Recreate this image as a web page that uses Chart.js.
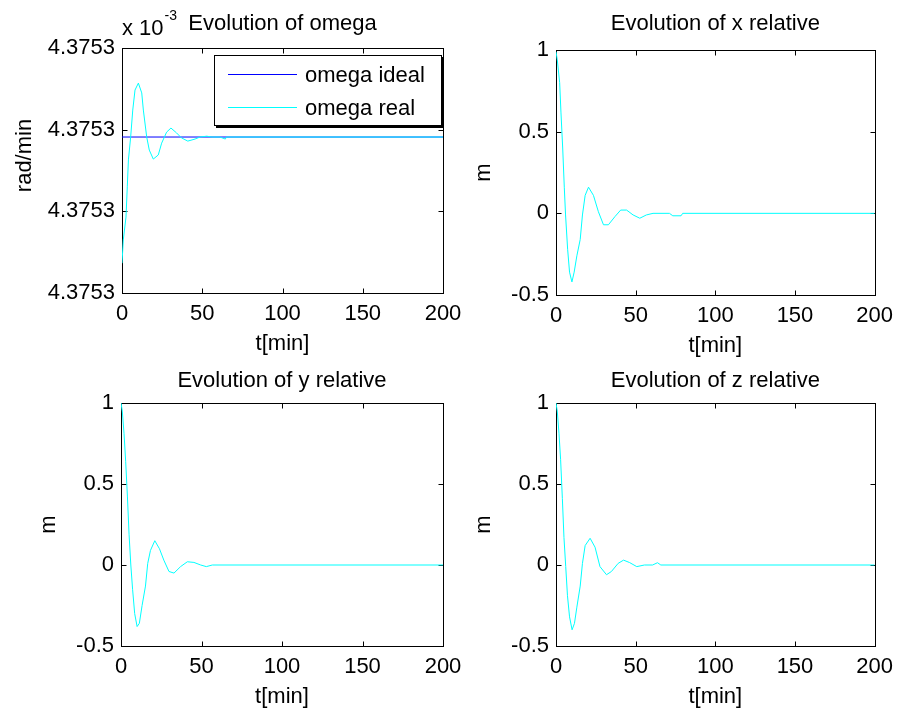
<!DOCTYPE html>
<html>
<head>
<meta charset="utf-8">
<script src="https://cdn.jsdelivr.net/npm/chart.js@4.4.1/dist/chart.umd.min.js"></script>
<style>
  html, body { margin: 0; padding: 0; background: #fff; width: 901px; height: 710px; overflow: hidden; }
  canvas { position: absolute; left: 0; top: 0; }
</style>
</head>
<body>
<canvas id="omega" width="901" height="760"></canvas>
<canvas id="xrel" width="901" height="760"></canvas>
<canvas id="yrel" width="901" height="760"></canvas>
<canvas id="zrel" width="901" height="760"></canvas>
<script>
// tick labels
const tTicks = [0, 50, 100, 150, 200];
const relTicks = [-0.5, 0, 0.5, 1];
const omegaTicks = [4.37526, 4.37528, 4.37530, 4.37532]; // x 10^-3, all print as 4.3753

// omega [x 10^-3 rad/min]
const tIdeal = [0, 200];
const omegaIdeal = [4.3752982, 4.3752982];
const tOmega = [0, 0.8, 2.5, 3.3, 4, 5.4, 6.7, 8.1, 10.2, 12.3, 13.3, 15.4, 17, 19.5, 22.6, 24.7,
  27.8, 30.5, 34, 37, 41, 45.5, 48.6, 52.8, 56, 61, 64.4, 65, 200];
const omegaReal = [4.3752673, 4.3752730, 4.3752786, 4.3752860, 4.3752926, 4.3752982, 4.3753048,
  4.3753097, 4.3753114, 4.3753090, 4.3753048, 4.3752982, 4.3752950, 4.3752928, 4.3752938,
  4.3752967, 4.3752994, 4.3753004, 4.3752992, 4.3752980, 4.3752972, 4.3752977, 4.3752982,
  4.3752984, 4.3752982, 4.3752982, 4.3752977, 4.3752982, 4.3752982];

// relative position [m]
const tX = [0, 0.8, 2.3, 3.1, 4.2, 5.2, 6, 7.3, 8.5, 10, 11.4, 13.1, 15.2, 16.6, 18.3, 20.4, 23.5,
  26.6, 29.8, 32.9, 37, 40.6, 44.3, 48.4, 52.6, 56.7, 60.9, 71.2, 73.3, 78.5, 79.5, 200];
const xRel = [0.99, 0.94, 0.80, 0.62, 0.40, 0.16, -0.01, -0.22, -0.36, -0.42, -0.36, -0.26, -0.16,
  -0.01, 0.11, 0.16, 0.11, 0.01, -0.07, -0.07, -0.02, 0.02, 0.02, -0.01, -0.03, -0.01, 0, 0,
  -0.015, -0.015, 0, 0];

const tY = [0, 0.8, 1.9, 2.9, 4, 5, 6.1, 7.2, 8.5, 10, 11.4, 13.1, 15.2, 16.6, 18.3, 21, 23.9,
  26.6, 29.8, 32.9, 37, 41.2, 45.3, 49.5, 53, 56.7, 200];
const yRel = [1.0, 0.95, 0.81, 0.64, 0.42, 0.19, 0.0, -0.15, -0.30, -0.38, -0.36, -0.25, -0.13,
  0.01, 0.09, 0.15, 0.10, 0.03, -0.04, -0.05, -0.01, 0.02, 0.016, 0.0, -0.01, 0.0, 0.0];

const tZ = [0, 0.8, 1.9, 2.9, 4, 5, 6.1, 7.2, 8.5, 10.1, 11.6, 13.1, 15.2, 16.6, 18.3, 21.4, 24.5,
  27.6, 31.7, 34.8, 39, 42.4, 46.2, 50.7, 55.5, 60.6, 63.7, 65.8, 200];
const zRel = [1.0, 0.95, 0.81, 0.65, 0.41, 0.17, -0.01, -0.19, -0.32, -0.40, -0.36, -0.26, -0.13,
  0.01, 0.12, 0.165, 0.11, -0.01, -0.06, -0.04, 0.01, 0.03, 0.015, -0.01, 0.0, 0.0, 0.014, 0.0, 0.0];

const FONT = '"Liberation Sans", Arial, sans-serif';
const CANVAS_H = 760;
const AXIS_W = 110;   // fixed y axis box width
const AXIS_H = 75;    // fixed x axis box height

Chart.defaults.font.family = FONT;
Chart.defaults.font.size = 22;
Chart.defaults.color = '#000';

const pts = (xs, ys) => xs.map((x, i) => ({ x: x, y: ys[i] }));

// matlab style box, inward ticks, title, legend
const matlabAxes = {
  id: 'matlabAxes',
  beforeDatasetsDraw(chart) {
    const { ctx, chartArea: a, scales: { x, y } } = chart;
    const L = Math.round(a.left) + 0.5, R = Math.round(a.right) + 0.5;
    const T = Math.round(a.top) + 0.5, B = Math.round(a.bottom) + 0.5;
    ctx.save();
    ctx.strokeStyle = '#000';
    ctx.lineWidth = 1;
    ctx.strokeRect(L, T, R - L, B - T);
    ctx.beginPath();
    x.ticks.forEach(tk => {
      const p = Math.round(x.getPixelForValue(tk.value)) + 0.5;
      ctx.moveTo(p, B); ctx.lineTo(p, B - 5);
      ctx.moveTo(p, T); ctx.lineTo(p, T + 5);
    });
    y.ticks.forEach(tk => {
      const p = Math.round(y.getPixelForValue(tk.value)) + 0.5;
      ctx.moveTo(L, p); ctx.lineTo(L + 5, p);
      ctx.moveTo(R, p); ctx.lineTo(R - 5, p);
    });
    ctx.stroke();
    ctx.restore();
  },
  afterDraw(chart, args, opts) {
    const { ctx, chartArea: a } = chart;
    ctx.save();
    ctx.fillStyle = '#000';
    ctx.font = '22px ' + FONT;
    ctx.textAlign = 'center';
    ctx.textBaseline = 'alphabetic';
    ctx.fillText(opts.title, (a.left + a.right) / 2, a.top - opts.titleGap);

    if (opts.exponent) {
      ctx.textAlign = 'left';
      ctx.fillText('x 10', a.left, a.top - 13);
      const w = ctx.measureText('x 10').width;
      ctx.font = '14px ' + FONT;
      ctx.fillText(opts.exponent, a.left + w + 1, a.top - 28);
    }

    if (opts.ylabel) {
      ctx.font = '22px ' + FONT;
      ctx.translate(opts.ylabel.x, opts.ylabel.y);
      ctx.rotate(-Math.PI / 2);
      ctx.textAlign = 'center';
      ctx.textBaseline = 'middle';
      ctx.fillText(opts.ylabel.text, 0, 0);
      ctx.setTransform(1, 0, 0, 1, 0, 0);
    }

    if (opts.legend) {
      const bx = a.left + 92, by = a.top + 7, bw = 228, bh = 71;
      ctx.fillStyle = '#000';
      ctx.fillRect(bx + bw, by + 2, 2, bh);
      ctx.fillRect(bx + 2, by + bh, bw, 2);
      ctx.fillStyle = '#fff';
      ctx.fillRect(bx, by, bw, bh);
      ctx.strokeStyle = '#000';
      ctx.lineWidth = 1;
      ctx.strokeRect(bx + 0.5, by + 0.5, bw - 1, bh - 1);
      ctx.font = '22px ' + FONT;
      ctx.textAlign = 'left';
      ctx.textBaseline = 'middle';
      chart.data.datasets.forEach((ds, i) => {
        const ry = Math.round(by + 19 + i * 33) + 0.5;
        ctx.strokeStyle = ds.borderColor;
        ctx.beginPath();
        ctx.moveTo(bx + 14, ry);
        ctx.lineTo(bx + 83, ry);
        ctx.stroke();
        ctx.fillStyle = '#000';
        ctx.fillText(ds.label, bx + 91, ry + 1);
      });
    }
    ctx.restore();
  }
};

function makePanel(id, p) {
  const yTitle = p.yTitle
    ? { display: true, text: p.yTitle, padding: { top: 24.8, bottom: 0 } }
    : { display: false };
  return new Chart(document.getElementById(id), {
    type: 'line',
    data: { datasets: p.datasets },
    options: {
      responsive: false,
      animation: false,
      events: [],
      layout: {
        padding: {
          left: p.box[0] - AXIS_W,
          top: p.box[1],
          right: 901 - p.box[2],
          bottom: CANVAS_H - AXIS_H - p.box[3]
        }
      },
      elements: { point: { radius: 0 }, line: { tension: 0, borderWidth: 1 } },
      plugins: {
        legend: { display: false },
        tooltip: { enabled: false },
        matlabAxes: { title: p.title, titleGap: p.titleGap, exponent: p.exponent, ylabel: p.ylabel, legend: p.legend }
      },
      scales: {
        x: {
          type: 'linear', min: 0, max: 200,
          afterFit: s => { s.height = AXIS_H; },
          afterBuildTicks: s => { s.ticks = tTicks.map(v => ({ value: v })); },
          grid: { display: false, drawTicks: false },
          border: { display: false },
          ticks: { padding: 8, maxRotation: 0, autoSkip: false, callback: v => String(v) },
          title: { display: true, text: 't[min]', padding: { top: 0, bottom: 10.8 } }
        },
        y: {
          type: 'linear', min: p.yTicks[0], max: p.yTicks[p.yTicks.length - 1],
          afterFit: s => { s.width = AXIS_W; },
          afterBuildTicks: s => { s.ticks = p.yTicks.map(v => ({ value: v })); },
          grid: { display: false, drawTicks: false },
          border: { display: false },
          ticks: { padding: 7, autoSkip: false, callback: p.yFormat },
          title: yTitle
        }
      }
    },
    plugins: [matlabAxes]
  });
}

const cyan = 'rgb(0,255,255)';

makePanel('omega', {
  box: [122, 48, 443, 293], titleGap: 18,
  title: 'Evolution of omega', exponent: '-3',
  ylabel: { text: 'rad/min', x: 25.4, y: 155.5 },
  legend: true,
  yTicks: omegaTicks, yFormat: v => v.toFixed(4),
  datasets: [
    { label: 'omega ideal', data: pts(tIdeal, omegaIdeal), borderColor: 'rgb(0,0,255)', order: 1 },
    { label: 'omega real', data: pts(tOmega, omegaReal), borderColor: cyan, order: 0 }
  ]
});

makePanel('xrel', {
  box: [556, 50, 878, 295], titleGap: 20,
  title: 'Evolution of x relative', yTitle: 'm',
  yTicks: relTicks, yFormat: v => String(v),
  datasets: [{ label: 'x relative', data: pts(tX, xRel), borderColor: cyan }]
});

makePanel('yrel', {
  box: [121, 403, 443, 646], titleGap: 16,
  title: 'Evolution of y relative', yTitle: 'm',
  yTicks: relTicks, yFormat: v => String(v),
  datasets: [{ label: 'y relative', data: pts(tY, yRel), borderColor: cyan }]
});

makePanel('zrel', {
  box: [556, 403, 878, 646], titleGap: 16,
  title: 'Evolution of z relative', yTitle: 'm',
  yTicks: relTicks, yFormat: v => String(v),
  datasets: [{ label: 'z relative', data: pts(tZ, zRel), borderColor: cyan }]
});
</script>
</body>
</html>
